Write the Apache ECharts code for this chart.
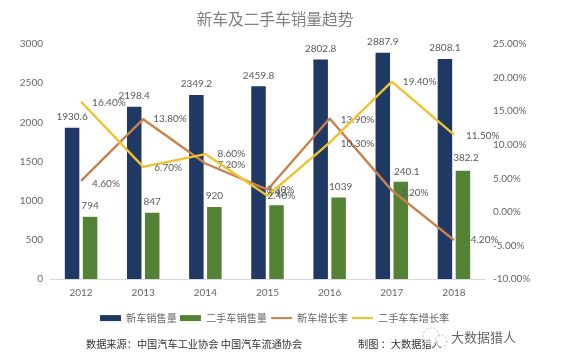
<!DOCTYPE html>
<html><head><meta charset="utf-8">
<style>html,body{margin:0;padding:0;background:#fff}#c{width:576px;height:360px}</style>
<script src="https://cdn.jsdelivr.net/npm/echarts@6/dist/echarts.min.js"></script>
</head><body><div id="c"></div>
<script>
const years = ['2012','2013','2014','2015','2016','2017','2018'];
const newSales = [1930.6,2198.4,2349.2,2459.8,2802.8,2887.9,2808.1];
const usedSales = [794,847,920,943,1039,1240.1,1382.2];
const usedLabels = ['794','847','920','943','1039','240.1','382.2'];
const newGrowth = [4.6,13.8,7.2,3.3,13.9,3.2,-4.2];
const usedGrowth = [16.4,6.7,8.6,2.4,10.3,19.4,11.5];

const FONT = '"Noto Sans CJK SC","Liberation Sans",sans-serif';
const NUM = 'Lato,"Noto Sans",sans-serif';
const usedOffsets = [[0,-1],[0,-1],[0,-1],[1,-2],[2,-1],[6,0],[3,-3]];
const newGrowthOffsets = [[7,3],[6,0],[8,1],[-5,0],[7,1],[5,2],[9,0]];
const usedGrowthOffsets = [[7,1],[7,1],[8,0],[-4,0],[7,1],[7,0],[8,1]];
const pct = v => v.toFixed(2) + '%';
const lbl = {color:'#595959',fontSize:10,fontFamily:NUM};

const chart = echarts.init(document.getElementById('c'),null,{renderer:'canvas'});
chart.setOption({
  animation:false,
  backgroundColor:'#fff',
  title:{text:'新车及二手车销量趋势',left:270,top:6,textAlign:'center',
    textStyle:{color:'#808080',fontSize:15.7,fontWeight:'normal',fontFamily:FONT}},
  legend:{left:95,top:308,padding:5,itemWidth:21,itemHeight:6,itemGap:3,
    textStyle:{color:'#666',fontSize:10.2,fontFamily:FONT},
    data:[{name:'新车销售量',icon:'rect'},{name:'二手车销售量',icon:'rect'},
      {name:'新车增长率',itemStyle:{opacity:0}},{name:'二手车车增长率',itemStyle:{opacity:0}}]},
  grid:{left:50,right:91,top:44,bottom:81},
  xAxis:{type:'category',data:years,axisTick:{show:false},
    axisLine:{lineStyle:{color:'#d9d9d9'}},
    axisLabel:{color:'#666',fontSize:10,fontFamily:NUM,margin:9}},
  yAxis:[
    {type:'value',min:0,max:3000,interval:500,splitLine:{show:false},axisLine:{show:false},
      axisTick:{show:false},axisLabel:{color:'#666',fontSize:10,fontFamily:NUM,margin:7,
        formatter:v=>String(v)}},
    {type:'value',min:-10,max:25,interval:5,splitLine:{show:false},axisLine:{show:false},
      axisTick:{show:false},axisLabel:{color:'#666',fontSize:10,fontFamily:NUM,margin:8,
        formatter:v=>v.toFixed(2)+'%'}}
  ],
  series:[
    {name:'新车销售量',type:'bar',barWidth:14.5,barGap:'24%',z:2,data:newSales,
      itemStyle:{color:'#1f3864'},
      label:{show:true,position:'top',distance:6,...lbl}},
    {name:'二手车销售量',type:'bar',barWidth:14.5,z:2,
      data:usedSales.map((v,i)=>({value:v,label:{offset:usedOffsets[i],formatter:usedLabels[i]}})),
      itemStyle:{color:'#548235'},
      label:{show:true,position:'top',distance:5,...lbl}},
    {name:'新车增长率',type:'line',yAxisIndex:1,z:4,symbol:'circle',symbolSize:0.1,
      data:newGrowth.map((v,i)=>({value:v,label:{offset:newGrowthOffsets[i]}})),
      lineStyle:{color:'#c9814b',width:2.4},itemStyle:{color:'#c9814b'},
      label:{show:true,position:'right',distance:4,formatter:p=>pct(p.value),...lbl}},
    {name:'二手车车增长率',type:'line',yAxisIndex:1,z:5,symbol:'circle',symbolSize:0.1,
      data:usedGrowth.map((v,i)=>({value:v,label:{offset:usedGrowthOffsets[i]}})),
      lineStyle:{color:'#f0c22e',width:2.4},itemStyle:{color:'#f0c22e'},
      label:{show:true,position:'right',distance:4,formatter:p=>pct(p.value),...lbl}}
  ],
  graphic:[
    {type:'text',left:86,top:339,style:{text:'数据来源：中国汽车工业协会 中国汽车流通协会',
      fill:'#333',font:'10.2px '+FONT}},
    {type:'text',left:358,top:339,style:{text:'制图 ：大数据猎人',fill:'#333',font:'10.2px '+FONT}},
    {type:'circle',z:10,shape:{cx:431,cy:336,r:8},style:{fill:'rgba(255,255,255,0.6)',stroke:'#bbb',lineWidth:1,lineDash:[2,2]}},
    {type:'circle',z:10,shape:{cx:441,cy:341,r:6},style:{fill:'rgba(255,255,255,0.6)',stroke:'#bbb',lineWidth:1,lineDash:[2,2]}},
    {type:'text',left:451,top:331,style:{text:'大数据猎人',fill:'#666',font:'13px '+FONT}}
  ]
});
</script></body></html>
